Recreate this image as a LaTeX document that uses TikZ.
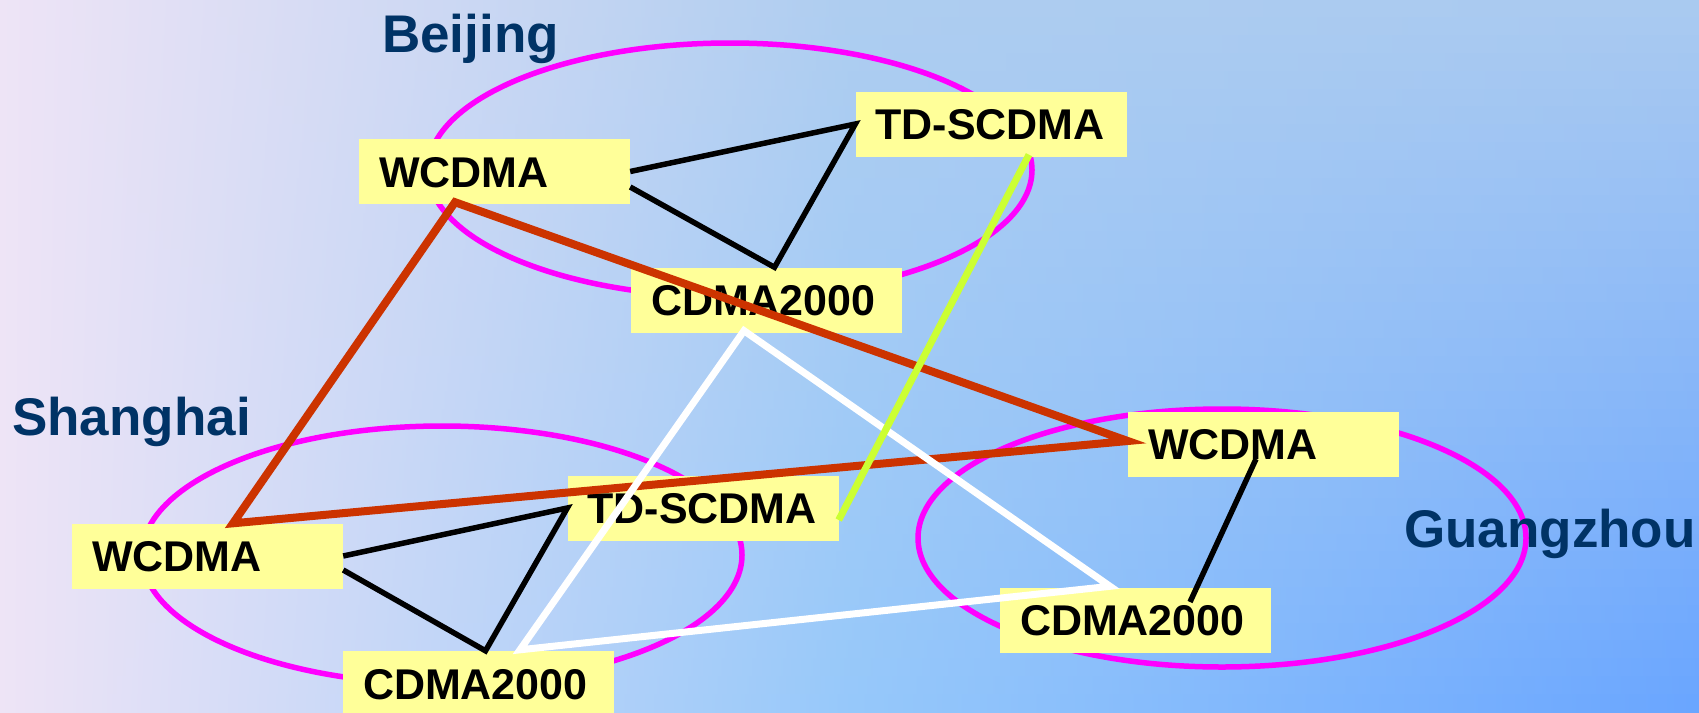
\documentclass[tikz,border=0pt]{standalone}
\usepackage{fontspec}
\setmainfont{Liberation Sans}
\definecolor{bgL}{RGB}{238,228,246}
\definecolor{bgTM}{RGB}{174,205,240}
\definecolor{bgTR}{RGB}{170,202,240}
\definecolor{bgBM}{RGB}{150,200,250}
\definecolor{bgBR}{RGB}{105,165,255}
\definecolor{boxY}{RGB}{255,255,153}
\definecolor{cityC}{RGB}{0,51,102}
\definecolor{zoneM}{RGB}{255,0,255}
\definecolor{linkR}{RGB}{204,51,0}
\definecolor{linkG}{RGB}{204,255,51}
\newcommand\nbfont{\fontsize{43}{43}\selectfont\bfseries}
\newcommand\ctfont{\fontsize{53}{53}\selectfont\bfseries}
\tikzset{
  netbox/.style={fill=boxY, minimum width=271pt, minimum height=65pt, text width=231pt,
    inner xsep=20pt, inner ysep=0pt, align=left, text height=31pt, text depth=0pt, font=\nbfont},
  city/.style={text=cityC, font=\ctfont, inner sep=0pt, anchor=base west},
  zone/.style={draw=zoneM, line width=5.5pt},
  blk/.style={draw=black, line width=5.5pt, line join=miter},
  redl/.style={draw=linkR, line width=8pt, line join=miter},
  whl/.style={draw=white, line width=7pt, line join=miter},
  grl/.style={draw=linkG, line width=7pt}
}
\begin{document}
\begin{tikzpicture}[x=1pt,y=-1pt]
\useasboundingbox (0,0) rectangle (1699,712);
% background: horizontal shading, varied strip by strip from top to bottom
\foreach \i in {0,...,39}{
  \pgfmathsetmacro\p{100-2.5*(\i+0.5)}
  \pgfmathsetmacro\ya{17.8*\i}
  \pgfmathsetmacro\yb{17.8*(\i+1)+0.8}
  \fill[left color=bgL, right color=bgTR!\p!bgBR, middle color=bgTM!\p!bgBM]
    (0,\ya) rectangle (1699,\yb);
}
% zones
\draw[zone] (730,170) ellipse [x radius=302pt, y radius=127pt];
\draw[zone] (442,555) ellipse [x radius=300pt, y radius=129pt];
\draw[zone] (1222,538) ellipse [x radius=304pt, y radius=129pt];
% boxes
\node[netbox] (bw) at (494.5,171.5) {WCDMA};
\node[netbox] (bt) at (991,124) {TD-SCDMA};
\node[netbox] (bc) at (766.5,300) {CDMA2000};
\node[netbox] (sw) at (207.5,556) {WCDMA};
\node[netbox] (st) at (703,508) {TD-SCDMA};
\node[netbox] (sc) at (478.5,683.5) {CDMA2000};
\node[netbox] (gw) at (1263.5,444) {WCDMA};
\node[netbox] (gc) at (1135.5,620) {CDMA2000};
% city labels
\node[city] (lb) at (382,52) {Beijing};
\node[city] (ls) at (12,435) {Shanghai};
\node[city] (lg) at (1404,547) {Guangzhou};
% black links
\draw[blk] (bw.east) -- (bt.west) -- ([xshift=8pt]bc.north) -- ([yshift=-15.5pt]bw.east);
\draw[blk] (sw.east) -- (st.west) -- ([xshift=7pt]sc.north) -- ([yshift=-14pt]sw.east);
\draw[blk] ([xshift=-7.5pt,yshift=-15pt]gw.center) -- ([xshift=54.5pt,yshift=18pt]gc.center);
% red links
\draw[redl] ([xshift=-39.5pt,yshift=2pt]bw.south) -- ([xshift=25.5pt]sw.north)
  -- ([yshift=3pt]gw.west) -- cycle;
% white links
\draw[whl] ([xshift=-22.5pt,yshift=2pt]bc.south) -- ([xshift=41.5pt,yshift=1pt]sc.north)
  -- ([xshift=-25.5pt,yshift=1pt]gc.north) -- cycle;
% green link
\draw[grl] ([xshift=38pt,yshift=2pt]bt.south) -- ([yshift=-12pt]st.east);
\end{tikzpicture}
\end{document}
